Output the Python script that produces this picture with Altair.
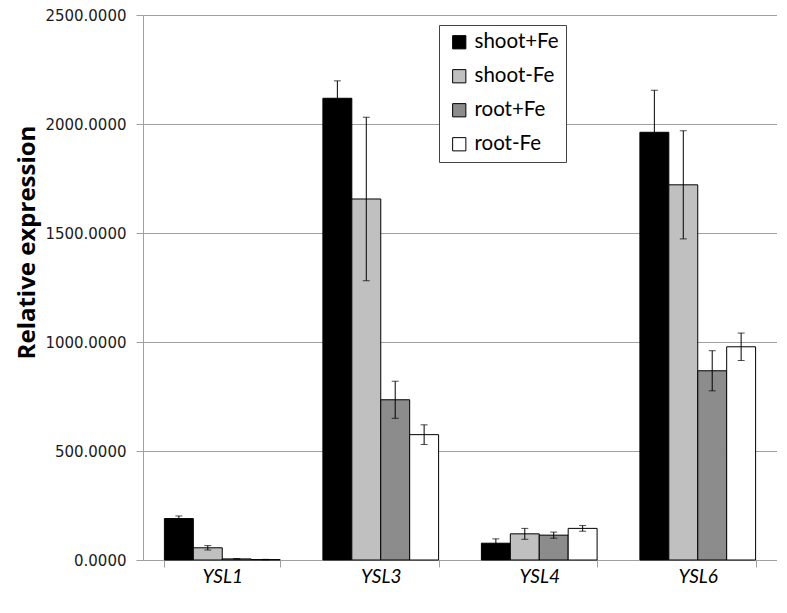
import altair as alt
import pandas as pd

genes = ["YSL1", "YSL3", "YSL4", "YSL6"]
conditions = ["shoot+Fe", "shoot-Fe", "root+Fe", "root-Fe"]
colors = ["#000000", "#c0c0c0", "#8c8c8c", "#ffffff"]

shoot_fe = [190, 2118, 77, 1962]
shoot_nofe = [56, 1656, 120, 1721]
root_fe = [5, 735, 114, 868]
root_nofe = [2, 575, 145, 978]

err_shoot_fe = [12, 80, 20, 193]
err_shoot_nofe = [10, 375, 25, 248]
err_root_fe = [1, 85, 14, 92]
err_root_nofe = [1, 45, 13, 63]

rows = []
for vals, errs, cond in [
    (shoot_fe, err_shoot_fe, conditions[0]),
    (shoot_nofe, err_shoot_nofe, conditions[1]),
    (root_fe, err_root_fe, conditions[2]),
    (root_nofe, err_root_nofe, conditions[3]),
]:
    for g, v, e in zip(genes, vals, errs):
        rows.append({"gene": g, "cond": cond, "value": v, "err": e})
df = pd.DataFrame(rows)

x = alt.X("gene:N", sort=genes, title=None,
          scale=alt.Scale(paddingInner=0.27, paddingOuter=0.135),
          axis=alt.Axis(tickBand="extent", labelAngle=0, labelFont="Lato",
                        labelFontStyle="italic", labelFontSize=19, labelColor="#000000",
                        domainColor="#a0a0a0", tickColor="#a0a0a0", tickSize=7,
                        labelPadding=0, grid=False))
xo = alt.XOffset("cond:N", sort=conditions, scale=alt.Scale(paddingInner=0, paddingOuter=0))

base = alt.Chart(df).encode(x=x, xOffset=xo)

bars = base.mark_bar(stroke="#000000", strokeWidth=1).encode(
    y=alt.Y("value:Q", title="Relative expression",
            scale=alt.Scale(domain=[0, 2500], nice=False),
            axis=alt.Axis(values=[0, 500, 1000, 1500, 2000, 2500], format=".4f",
                          labelFont="DejaVu Sans", labelFontSize=15, labelColor="#1a1a1a",
                          labelPadding=10, tickSize=7, tickColor="#a0a0a0",
                          domainColor="#a0a0a0", gridColor="#a0a0a0", grid=True,
                          titleFont="Open Sans", titleFontSize=24, titleFontWeight="bold",
                          titleColor="#000000", titlePadding=5, titleY=227)),
    fill=alt.Fill("cond:N", sort=conditions,
                  scale=alt.Scale(domain=conditions, range=colors),
                  legend=alt.Legend(title=None, orient="none", legendX=296, legendY=10,
                                    symbolType="square", symbolSize=175,
                                    symbolStrokeColor="#000000", symbolStrokeWidth=1,
                                    labelFont="Lato", labelFontSize=20.5, labelColor="#000000",
                                    rowPadding=13, strokeColor="#444444", fillColor="#ffffff",
                                    padding=7, symbolOffset=3, labelOffset=5)),
)

rules = base.mark_rule(color="#000000", strokeWidth=1).transform_calculate(
    lo="datum.value - datum.err", hi="datum.value + datum.err"
).encode(y="lo:Q", y2="hi:Q")

caps_hi = base.mark_tick(color="#000000", thickness=1, size=7).transform_calculate(
    hi="datum.value + datum.err").encode(y="hi:Q")
caps_lo = base.mark_tick(color="#000000", thickness=1, size=7).transform_calculate(
    lo="datum.value - datum.err").encode(y="lo:Q")

chart = alt.layer(bars, rules, caps_hi, caps_lo).properties(
    width=634, height=545, padding={"left": 7, "top": 0, "right": 0, "bottom": 0}
).configure_view(stroke=None).configure_axis(gridWidth=1)

chart.save("out.html", embed_options={"renderer": "svg", "actions": False})
